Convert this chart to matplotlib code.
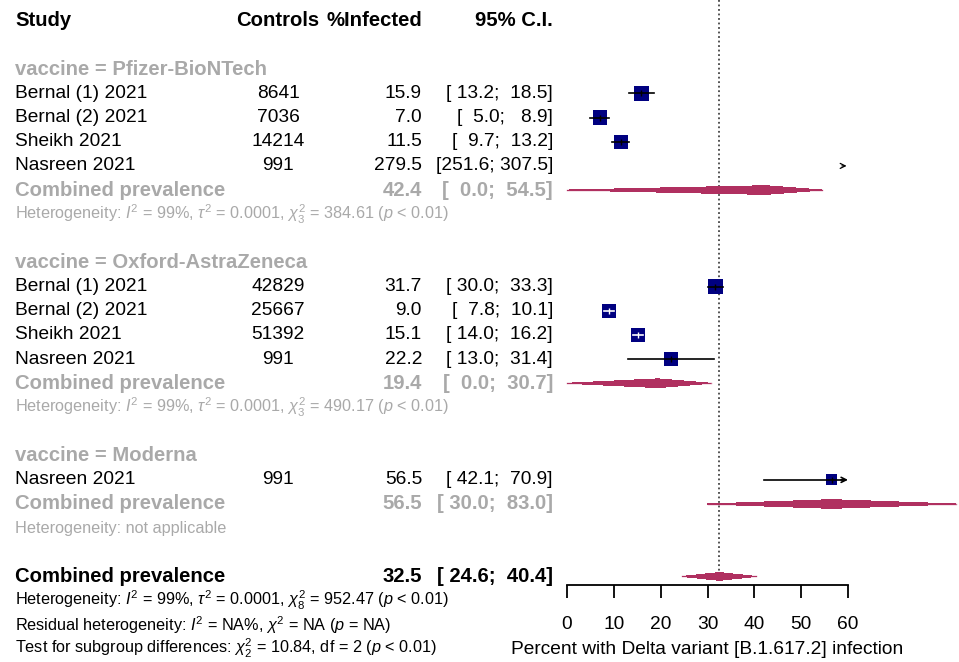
"""
Forest plot: prevalence of Delta variant infection by vaccine
"""

import numpy as np
import matplotlib.pyplot as plt

plt.rcParams['font.family'] = ['Liberation Sans', 'DejaVu Sans']
plt.rcParams['mathtext.fontset'] = 'custom'
plt.rcParams['mathtext.rm'] = 'Liberation Sans'
plt.rcParams['mathtext.it'] = 'Liberation Sans:italic'
plt.rcParams['mathtext.bf'] = 'Liberation Sans:bold'

# data
groups = ['Pfizer-BioNTech', 'Oxford-AstraZeneca', 'Moderna']
studies = [['Bernal (1) 2021', 'Bernal (2) 2021', 'Sheikh 2021', 'Nasreen 2021'],
           ['Bernal (1) 2021', 'Bernal (2) 2021', 'Sheikh 2021', 'Nasreen 2021'],
           ['Nasreen 2021']]
controls = [[8641, 7036, 14214, 991],
            [42829, 25667, 51392, 991],
            [991]]
prevalence = [[15.9, 7.0, 11.5, 279.5],
              [31.7, 9.0, 15.1, 22.2],
              [56.5]]
ci_lower = [[13.2, 5.0, 9.7, 251.6],
            [30.0, 7.8, 14.0, 13.0],
            [42.1]]
ci_upper = [[18.5, 8.9, 13.2, 307.5],
            [33.3, 10.1, 16.2, 31.4],
            [70.9]]
weights = [[11.6, 11.8, 11.3, 11.0],
           [11.8, 11.0, 11.0, 10.0],
           [7.0]]

group_est = [42.4, 19.4, 56.5]
group_lower = [0.0, 0.0, 30.0]
group_upper = [54.5, 30.7, 83.0]
group_het = [r'Heterogeneity: $I^2$ = 99%, $\tau^2$ = 0.0001, $\chi^2_3$ = 384.61 ($p$ < 0.01)',
             r'Heterogeneity: $I^2$ = 99%, $\tau^2$ = 0.0001, $\chi^2_3$ = 490.17 ($p$ < 0.01)',
             'Heterogeneity: not applicable']

overall_est, overall_lower, overall_upper = 32.5, 24.6, 40.4
overall_notes = [r'Heterogeneity: $I^2$ = 99%, $\tau^2$ = 0.0001, $\chi^2_8$ = 952.47 ($p$ < 0.01)',
                 r'Residual heterogeneity: $I^2$ = NA%, $\chi^2$ = NA ($p$ = NA)',
                 r'Test for subgroup differences: $\chi^2_2$ = 10.84, df = 2 ($p$ < 0.01)']

xticks = [0, 10, 20, 30, 40, 50, 60]
xlabel = 'Percent with Delta variant [B.1.617.2] infection'

# style
W, H, DPI = 959, 662, 100
ROW0, ROWH = 21, 24.15          # pixel centre of row 0 and row height
GRAY = '#a9a9a9'
NAVY = '#000080'
MAROON = '#b03060'
FS, FS_BOLD, FS_SMALL = 13.8, 14.6, 11.7
X_STUDY, X_CTRL, X_PREV, X_CI = 15, 278, 422, 553
AX_LEFT, AX_RIGHT, AX_BOTTOM = 567, 848, 585
XMIN, XMAX = 0, 60
DIA_H = 0.18


def row_of_px(py):
    return (py - ROW0) / ROWH


fig = plt.figure(figsize=(W / DPI, H / DPI), dpi=DPI)
tx = fig.add_axes([0, 0, 1, 1])
tx.set_xlim(0, W)
tx.set_ylim(row_of_px(H), row_of_px(0))
tx.axis('off')

fx = fig.add_axes([AX_LEFT / W, (H - AX_BOTTOM) / H,
                   (AX_RIGHT - AX_LEFT) / W, AX_BOTTOM / H])
fx.set_xlim(XMIN, XMAX)
fx.set_ylim(row_of_px(AX_BOTTOM), row_of_px(0))
fx.patch.set_alpha(0)
for s in ['top', 'right', 'left']:
    fx.spines[s].set_visible(False)
fx.spines['bottom'].set_linewidth(1.3)
fx.set_yticks([])
fx.set_xticks(xticks)
fx.tick_params(axis='x', length=9.4, width=1.3, pad=13, labelsize=FS)
fx.set_xlabel(xlabel, fontsize=FS, labelpad=6)

px_per_unit = (AX_RIGHT - AX_LEFT) / (XMAX - XMIN)


def row_text(r, study, ctrl, prev, ci, color='black', weight='normal'):
    size = FS_BOLD if weight == 'bold' else FS
    kw = dict(fontsize=size, color=color, fontweight=weight, va='center')
    tx.text(X_STUDY, r, study, ha='left', **kw)
    if ctrl:
        tx.text(X_CTRL, r, ctrl, ha='center', **kw)
    tx.text(X_PREV, r, prev, ha='right', **kw)
    tx.text(X_CI, r, ci, ha='right', **kw)


def ci_str(lo, hi):
    return f'[{lo:5.1f}; {hi:5.1f}]'


def diamond(r, est, lo, hi, h=DIA_H):
    fx.fill([lo, est, hi, est], [r, r - h, r, r + h],
            color=MAROON, lw=0, antialiased=False, clip_on=False, zorder=3)
    fx.plot([lo, hi], [r, r], color=MAROON, lw=1.0, alpha=0.7,
            clip_on=False, zorder=3)


def study_mark(r, est, lo, hi, w):
    side = 4.2 * np.sqrt(w)              # square side in pixels
    if lo >= XMAX:
        fx.annotate('', xy=(XMAX - 0.3, r), xytext=(XMAX - 1.3, r),
                    arrowprops=dict(arrowstyle='->', lw=0.9, color='black',
                                    mutation_scale=9, shrinkA=0, shrinkB=0),
                    annotation_clip=False)
        return
    fx.scatter([est], [r], marker='s', s=(side * 72 / DPI) ** 2,
               color=NAVY, edgecolors='none', zorder=2)
    half = side / 2 / px_per_unit
    inside = (est - lo) < half and (hi - est) < half
    lc = 'white' if inside else 'black'
    if hi > XMAX:
        fx.plot([lo, XMAX - 1.0], [r, r], color=lc, lw=1.2, zorder=3)
        fx.annotate('', xy=(XMAX, r), xytext=(XMAX - 1.5, r),
                    arrowprops=dict(arrowstyle='->', lw=1.2, color='black',
                                    mutation_scale=9, shrinkA=0, shrinkB=0),
                    annotation_clip=False)
    else:
        fx.plot([lo, hi], [r, r], color=lc, lw=1.2, zorder=3)
    fx.plot([est], [r], marker='|', ms=5, mew=1.0, color=lc, zorder=4)


# header
hkw = dict(fontsize=FS_BOLD, fontweight='bold', va='center')
tx.text(X_STUDY, 0, 'Study', ha='left', **hkw)
tx.text(X_CTRL, 0, 'Controls', ha='center', **hkw)
tx.text(X_PREV, 0, '%Infected', ha='right', **hkw)
tx.text(X_CI, 0, '95% C.I.', ha='right', **hkw)

r = 2
for g, name in enumerate(groups):
    tx.text(X_STUDY, r, f'vaccine = {name}', fontsize=FS_BOLD,
            fontweight='bold', color=GRAY, va='center')
    for i, st in enumerate(studies[g]):
        rr = r + 1 + i
        row_text(rr, st, str(controls[g][i]), f'{prevalence[g][i]:.1f}',
                 ci_str(ci_lower[g][i], ci_upper[g][i]))
        study_mark(rr, prevalence[g][i], ci_lower[g][i], ci_upper[g][i],
                   weights[g][i])
    rc = r + len(studies[g]) + 1
    row_text(rc, 'Combined prevalence', '', f'{group_est[g]:.1f}',
             ci_str(group_lower[g], group_upper[g]), color=GRAY, weight='bold')
    diamond(rc, group_est[g], group_lower[g], group_upper[g])
    tx.text(X_STUDY, rc + 1, group_het[g], fontsize=FS_SMALL, color=GRAY,
            va='center')
    r = rc + 3

# overall
row_text(r, 'Combined prevalence', '', f'{overall_est:.1f}',
         ci_str(overall_lower, overall_upper), weight='bold')
diamond(r, overall_est, overall_lower, overall_upper, h=0.16)
for k, note in enumerate(overall_notes):
    tx.text(X_STUDY, r + 1 + k, note, fontsize=FS_SMALL, color='black',
            va='center')

fx.vlines(overall_est, row_of_px(0), r - 0.16, colors='#444444',
          linestyles=(0, (1.0, 1.5)), lw=1.3, zorder=1)

fig.savefig('out.png', dpi=DPI)
